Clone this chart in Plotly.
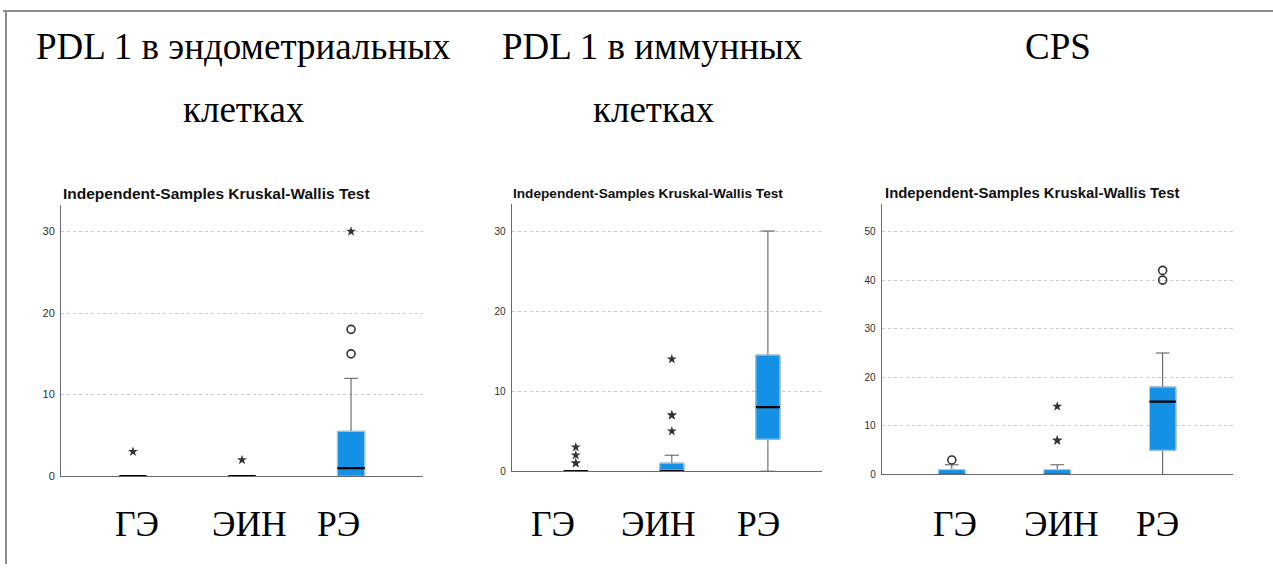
import plotly.graph_objects as go

# ---- data -------------------------------------------------------------
groups = ["ГЭ", "ЭИН", "РЭ"]

# PDL 1 in endometrial cells
endo_q1 = [0, 0, 0]
endo_median = [0, 0, 1]
endo_q3 = [0, 0, 5.5]
endo_low = [0, 0, 0]
endo_high = [0, 0, 12]
endo_star_group = ["ГЭ", "ЭИН", "РЭ"]
endo_star_value = [3, 2, 30]
endo_circle_group = ["РЭ", "РЭ"]
endo_circle_value = [18, 15]

# PDL 1 in immune cells
imm_q1 = [0, 0, 4]
imm_median = [0, 0, 8]
imm_q3 = [0, 1, 14.5]
imm_low = [0, 0, 0]
imm_high = [0, 2, 30]
imm_star_group = ["ГЭ", "ГЭ", "ГЭ", "ГЭ", "ЭИН", "ЭИН", "ЭИН", "ЭИН"]
imm_star_value = [1, 1, 2, 3, 5, 7, 7, 14]
imm_circle_group = []
imm_circle_value = []

# CPS
cps_q1 = [0, 0, 5]
cps_median = [0, 0, 15]
cps_q3 = [1, 1, 18]
cps_low = [0, 0, 0]
cps_high = [2, 2, 25]
cps_star_group = ["ЭИН", "ЭИН", "ЭИН"]
cps_star_value = [7, 7, 14]
cps_circle_group = ["ГЭ", "РЭ", "РЭ"]
cps_circle_value = [3, 40, 42]

panel_titles = [["PDL 1 в эндометриальных", "клетках"], ["PDL 1 в иммунных", "клетках"], ["CPS"]]
chart_subtitle = "Independent-Samples Kruskal-Wallis Test"
y_ticks = [[0, 10, 20, 30], [0, 10, 20, 30], [0, 10, 20, 30, 40, 50]]
y_max = [33.3, 33.4, 55.7]

# ---- layout constants (pixels) ---------------------------------------
W, H = 1273, 570
V_FIX = 1.0132          # vertical pixel correction for placement
BOX_FILL = "#1490e4"
BOX_EDGE = "#a9d5f5"
WHISKER = "#555555"
MARK = "#333333"
BOX_W = 0.25

panels = [
    dict(q1=endo_q1, med=endo_median, q3=endo_q3, lo=endo_low, hi=endo_high,
         sg=endo_star_group, sv=endo_star_value, cg=endo_circle_group, cv=endo_circle_value,
         px=(61, 423), py=(204, 475), xr=(-0.66, 2.66), sub_x=60.5, sub_size=15.5, tick_size=11,
         wwidth=0.5, title_x=[243.5, 243.5], label_x=[137, 249, 338]),
    dict(q1=imm_q1, med=imm_median, q3=imm_q3, lo=imm_low, hi=imm_high,
         sg=imm_star_group, sv=imm_star_value, cg=imm_circle_group, cv=imm_circle_value,
         px=(511.7, 821.7), py=(203.3, 470), xr=(-0.667, 2.56), sub_x=511.2, sub_size=13.65, tick_size=10,
         wwidth=0.6, title_x=[652.5, 653.5], label_x=[553, 658, 758]),
    dict(q1=cps_q1, med=cps_median, q3=cps_q3, lo=cps_low, hi=cps_high,
         sg=cps_star_group, sv=cps_star_value, cg=cps_circle_group, cv=cps_circle_value,
         px=(881.7, 1233.3), py=(203.3, 473.3), xr=(-0.665, 2.67), sub_x=882.8, sub_size=14.9, tick_size=10,
         wwidth=0.52, title_x=[1057.5], label_x=[955, 1061, 1157]),
]


def fx(x):
    return x / W


def fy(y):
    return max(0.0, 1 - y * V_FIX / H)


fig = go.Figure()
annotations = []

for k, p in enumerate(panels):
    n = k + 1
    xa = "x" if n == 1 else f"x{n}"
    ya = "y" if n == 1 else f"y{n}"
    for i, g in enumerate(groups):
        # full box with whiskers
        fig.add_trace(go.Box(
            x=[i], q1=[p["q1"][i]], median=[p["med"][i]], q3=[p["q3"][i]],
            lowerfence=[p["lo"][i]], upperfence=[p["hi"][i]],
            width=BOX_W, whiskerwidth=p["wwidth"], fillcolor=BOX_FILL,
            line=dict(color=WHISKER, width=1), boxpoints=False,
            showlegend=False, hoverinfo="skip", xaxis=xa, yaxis=ya))
        # light box edge drawn over the body
        fig.add_trace(go.Box(
            x=[i], q1=[p["q1"][i]], median=[p["med"][i]], q3=[p["q3"][i]],
            lowerfence=[p["q1"][i]], upperfence=[p["q3"][i]],
            width=BOX_W, whiskerwidth=0, fillcolor=BOX_FILL,
            line=dict(color=BOX_EDGE, width=1), boxpoints=False,
            showlegend=False, hoverinfo="skip", xaxis=xa, yaxis=ya))
        # median bar
        fig.add_trace(go.Scatter(
            x=[i - BOX_W / 2, i + BOX_W / 2], y=[p["med"][i], p["med"][i]],
            mode="lines", line=dict(color="#000000", width=2.2),
            showlegend=False, hoverinfo="skip", xaxis=xa, yaxis=ya))
    # extreme values (stars) and outliers (circles)
    if p["sv"]:
        fig.add_trace(go.Scatter(
            x=[groups.index(g) for g in p["sg"]], y=p["sv"], mode="markers",
            marker=dict(symbol="star", size=7.5, color=MARK, line=dict(width=0)),
            showlegend=False, hoverinfo="skip", xaxis=xa, yaxis=ya))
    if p["cv"]:
        fig.add_trace(go.Scatter(
            x=[groups.index(g) for g in p["cg"]], y=p["cv"], mode="markers",
            marker=dict(symbol="circle-open", size=8, color=MARK, line=dict(width=1.6, color=MARK)),
            showlegend=False, hoverinfo="skip", xaxis=xa, yaxis=ya))

    x_key = "xaxis" if n == 1 else f"xaxis{n}"
    y_key = "yaxis" if n == 1 else f"yaxis{n}"
    fig.layout[x_key] = dict(
        domain=[fx(p["px"][0]), fx(p["px"][1])], range=list(p["xr"]), anchor=ya,
        showline=True, linecolor="#6a6a6a", linewidth=1, showgrid=False, zeroline=False,
        showticklabels=False, ticks="", fixedrange=True)
    fig.layout[y_key] = dict(
        domain=[fy(p["py"][1]), fy(p["py"][0])], range=[0, y_max[k]], anchor=xa,
        showline=True, linecolor="#6a6a6a", linewidth=1, zeroline=False,
        showgrid=True, gridcolor="#c9c9c9", griddash="3px,3px", gridwidth=1,
        tickvals=y_ticks[k], ticks="", ticklabelstandoff=3,
        tickfont=dict(family="Liberation Sans, Arial", size=p["tick_size"], color="#2e2e2e"),
        fixedrange=True)

    # test name above the plot
    annotations.append(dict(
        text=chart_subtitle, x=fx(p["sub_x"]), y=fy(193), xref="paper", yref="paper",
        xanchor="left", yanchor="middle", showarrow=False,
        font=dict(family="Liberation Sans, Arial", size=p["sub_size"], color="#111111", weight="bold")))

    # panel heading (serif, one or two lines)
    for j, line in enumerate(panel_titles[k]):
        annotations.append(dict(
            text=line, x=fx(p["title_x"][j]), y=fy(46 + 63 * j), xref="paper", yref="paper",
            xanchor="center", yanchor="middle", showarrow=False,
            font=dict(family="Liberation Serif, Times New Roman", size=37, color="#000000")))

    # group names under the plot
    for j, g in enumerate(groups):
        annotations.append(dict(
            text=g, x=fx(p["label_x"][j]), y=fy(523), xref="paper", yref="paper",
            xanchor="center", yanchor="middle", showarrow=False,
            font=dict(family="Liberation Serif, Times New Roman", size=35.5, color="#000000")))

# frame lines along the top and left edges
shapes = [
    dict(type="line", xref="paper", yref="paper", x0=fx(3), x1=1, y0=fy(11), y1=fy(11),
         line=dict(color="#8c8c8c", width=2)),
    dict(type="line", xref="paper", yref="paper", x0=fx(6), x1=fx(6), y0=fy(11), y1=0,
         line=dict(color="#8c8c8c", width=2)),
]

fig.update_layout(
    width=W, height=H, margin=dict(l=0, r=0, t=0, b=0),
    paper_bgcolor="#ffffff", plot_bgcolor="#ffffff",
    boxmode="overlay", showlegend=False,
    annotations=annotations, shapes=shapes,
)

fig.write_html("out.html", config={"displayModeBar": False})
